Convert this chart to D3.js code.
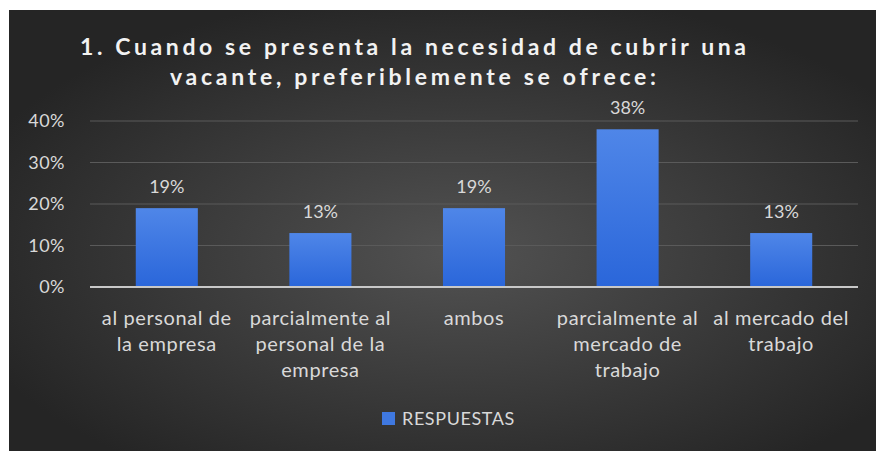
<!DOCTYPE html>
<html>
<head>
<meta charset="utf-8">
<script src="https://cdn.jsdelivr.net/npm/d3@7"></script>
<style>
  html, body { margin: 0; padding: 0; background: #ffffff; }
  svg { display: block; }
</style>
</head>
<body>
<svg id="chart" width="876" height="451"></svg>
<script>
// Survey answers: share of responses per option
const categories = [
  "al personal de\nla empresa",
  "parcialmente al\npersonal de la\nempresa",
  "ambos",
  "parcialmente al\nmercado de\ntrabajo",
  "al mercado del\ntrabajo"
];
const respuestas = [19, 13, 19, 38, 13];
const yTicks = [0, 10, 20, 30, 40];
const titleLines = [
  "1. Cuando se presenta la necesidad de cubrir una",
  "vacante, preferiblemente se ofrece:"
];
const seriesName = "RESPUESTAS";

const svg = d3.select("#chart");
const W = 876, H = 451;
const font = "Lato, 'Open Sans', sans-serif";

// background panel with a soft radial light
const defs = svg.append("defs");
const bg = defs.append("radialGradient").attr("id", "bgGrad")
  .attr("cx", "52%").attr("cy", "55%").attr("r", "60%");
bg.append("stop").attr("offset", "0%").attr("stop-color", "#525252");
bg.append("stop").attr("offset", "100%").attr("stop-color", "#252525");

const barGrad = defs.append("linearGradient").attr("id", "barGrad")
  .attr("x1", 0).attr("y1", 0).attr("x2", 0).attr("y2", 1);
barGrad.append("stop").attr("offset", "0%").attr("stop-color", "#4f86e8");
barGrad.append("stop").attr("offset", "100%").attr("stop-color", "#2a66da");

svg.append("rect").attr("x", 9).attr("y", 10)
  .attr("width", W - 9).attr("height", H - 10)
  .attr("fill", "url(#bgGrad)");

// title
const title = svg.append("text")
  .attr("font-family", font).attr("font-weight", 700)
  .attr("font-size", 23).attr("fill", "#f2f2f2")
  .attr("text-anchor", "middle");
const titleWidths = [666, 486];
titleLines.forEach((t, i) => {
  title.append("tspan")
    .attr("x", 413).attr("y", 55 + i * 30)
    .attr("textLength", titleWidths[i])
    .attr("lengthAdjust", "spacing")
    .text(t);
});

// scales
const margin = { left: 90, right: 18, top: 121, bottom: 164 };
const x = d3.scaleBand()
  .domain(categories)
  .range([margin.left, W - margin.right])
  .paddingInner(0.596).paddingOuter(0.298);
const y = d3.scaleLinear()
  .domain([0, 40])
  .range([H - margin.bottom, margin.top]);

// gridlines
svg.append("g")
  .selectAll("line")
  .data(yTicks.filter(d => d > 0))
  .join("line")
  .attr("x1", margin.left).attr("x2", W - margin.right)
  .attr("y1", d => y(d)).attr("y2", d => y(d))
  .attr("stroke", "#5a5a5a").attr("stroke-width", 1);

// y axis labels
const yAxis = svg.append("g")
  .attr("transform", `translate(${margin.left - 22},0)`)
  .call(d3.axisLeft(y).tickValues(yTicks).tickFormat(d => d + "%").tickSize(0));
yAxis.select(".domain").remove();
yAxis.selectAll("text")
  .attr("font-family", font).attr("font-size", 18)
  .attr("letter-spacing", "0.5px")
  .attr("fill", "#d9d9d9");

// bars
svg.append("g")
  .selectAll("rect")
  .data(respuestas)
  .join("rect")
  .attr("x", (d, i) => x(categories[i]))
  .attr("width", x.bandwidth())
  .attr("y", d => y(d))
  .attr("height", d => y(0) - y(d))
  .attr("fill", "url(#barGrad)");

// value labels
svg.append("g")
  .selectAll("text")
  .data(respuestas)
  .join("text")
  .attr("x", (d, i) => x(categories[i]) + x.bandwidth() / 2)
  .attr("y", d => y(d) - 15)
  .attr("text-anchor", "middle")
  .attr("font-family", font).attr("font-size", 18)
  .attr("fill", "#d9d9d9")
  .text(d => d + "%");

// baseline
svg.append("line")
  .attr("x1", margin.left).attr("x2", W - margin.right)
  .attr("y1", y(0)).attr("y2", y(0))
  .attr("stroke", "#c8c8c8").attr("stroke-width", 2);

// category labels
const xAxis = svg.append("g")
  .attr("transform", `translate(0,${y(0)})`)
  .call(d3.axisBottom(x).tickSize(0).tickFormat(""));
xAxis.select(".domain").remove();
xAxis.selectAll(".tick").each(function(d) {
  const t = d3.select(this).append("text")
    .attr("text-anchor", "middle")
    .attr("font-family", font).attr("font-size", 20)
    .attr("letter-spacing", "0.6px")
    .attr("fill", "#d9d9d9");
  d.split("\n").forEach((line, i) => {
    t.append("tspan").attr("x", 0).attr("y", 38 + i * 26).text(line);
  });
});

// legend
const legend = svg.append("g").attr("transform", "translate(382,412)");
legend.append("rect").attr("width", 13).attr("height", 13).attr("fill", "#3f78e0");
legend.append("text")
  .attr("x", 20).attr("y", 13)
  .attr("font-family", font).attr("font-size", 18)
  .attr("letter-spacing", "0.6px")
  .attr("fill", "#d9d9d9")
  .text(seriesName);
</script>
</body>
</html>
